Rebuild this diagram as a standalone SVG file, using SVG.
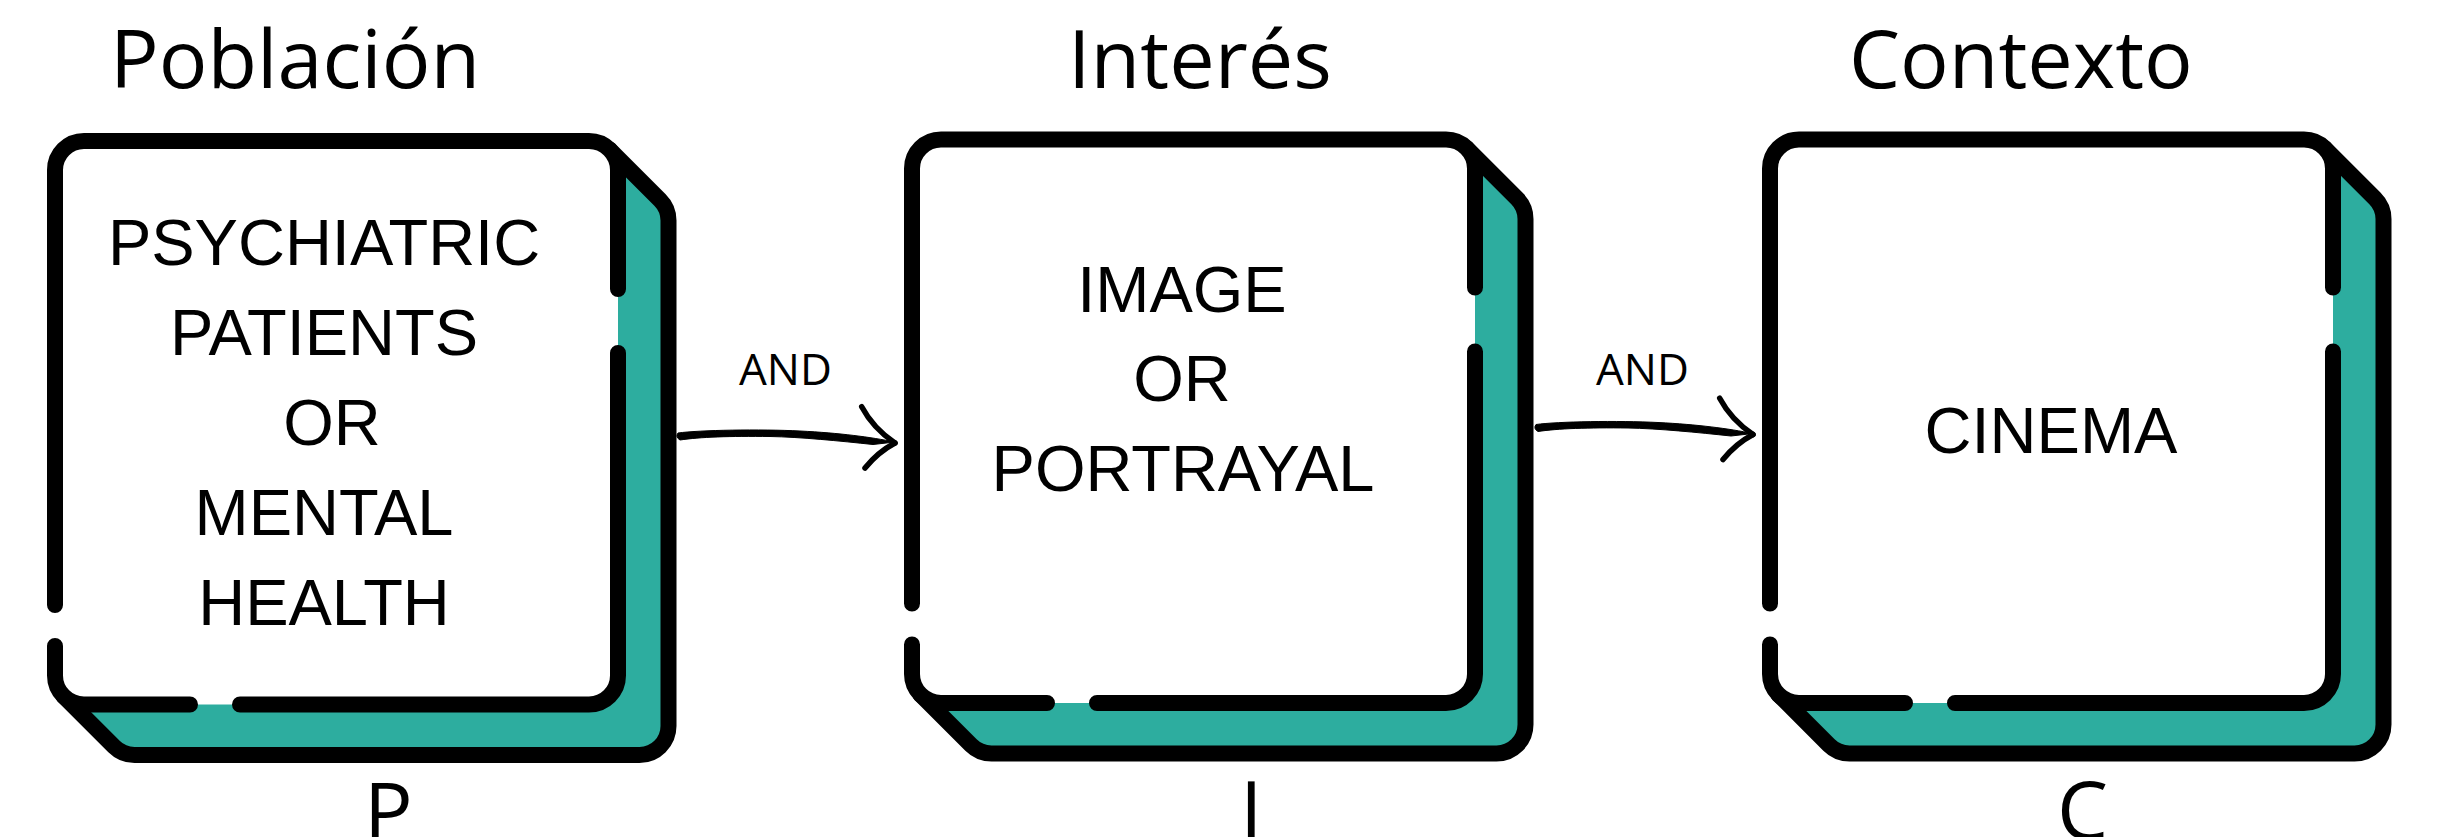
<svg xmlns="http://www.w3.org/2000/svg" width="2442" height="837" viewBox="0 0 2442 837">
<defs>
<style>
.back{fill:#2DAD9F;stroke:#000;stroke-width:16;stroke-linejoin:round;stroke-linecap:round}
.face{fill:#fff;stroke:none}
.edge{fill:none;stroke:#000;stroke-width:16;stroke-linecap:round;stroke-linejoin:round}
.title{font-family:"Open Sans","Noto Sans",sans-serif;font-size:81px;fill:#000}
.body{font-family:"Liberation Sans",Arial,sans-serif;font-size:65px;fill:#000;text-anchor:middle}
.lbl{font-family:"Open Sans","Noto Sans",sans-serif;font-size:44px;fill:#000;text-anchor:middle}
.shaft{fill:#000;stroke:#000;stroke-width:1}
.barb{fill:none;stroke:#000;stroke-width:5.5;stroke-linecap:round}
</style>
<g id="card">
<path class="back" d="M609.5 149.5 L660 200 A29 29 0 0 1 668.5 220.5 L668.5 726 A29 29 0 0 1 639.5 755 L134.5 755 A29 29 0 0 1 114 746.5 L63.5 696"/>
<rect class="face" x="55" y="141" width="563" height="563.5" rx="29"/>
<path class="edge" d="M55 605 L55 170 A29 29 0 0 1 84 141 L589 141 A29 29 0 0 1 618 170 L618 289"/>
<path class="edge" d="M618 353 L618 675.5 A29 29 0 0 1 589 704.5 L240 704.5"/>
<path class="edge" d="M190 704.5 L84 704.5 A29 29 0 0 1 55 675.5 L55 646"/>
</g>
<g id="arrow">
<path class="shaft" d="M678 433 C700 430 760 429 800 431 C840 433 870 437 895 442 L873 444.5 C840 441 800 437 770 436.5 C730 436 700 437 680 440 Q675 437 678 433 Z"/>
<path class="barb" d="M861.7 406.7 Q873 428 895 443"/>
<path class="barb" d="M895 443 Q878 452 865 468"/>
</g>
</defs>

<g id="node-poblacion">
<use href="#card"/>
<text class="title" x="110" y="88">Población</text>
<text class="body" x="324" y="265">PSYCHIATRIC</text>
<text class="body" x="324" y="355">PATIENTS</text>
<text class="body" x="332" y="445">OR</text>
<text class="body" x="324" y="535">MENTAL</text>
<text class="body" x="324" y="625">HEALTH</text>
<text class="title" x="364" y="841">P</text>
</g>

<g id="node-interes">
<use href="#card" transform="translate(857,-1.5)"/>
<text class="title" x="1068" y="88">Interés</text>
<text class="body" x="1182" y="312">IMAGE</text>
<text class="body" x="1182" y="401">OR</text>
<text class="body" x="1183" y="491">PORTRAYAL</text>
<text class="title" x="1240" y="839">I</text>
</g>

<g id="node-contexto">
<use href="#card" transform="translate(1715,-1.5)"/>
<text class="title" x="1849" y="88">Contexto</text>
<text class="body" x="2051" y="453">CINEMA</text>
<text class="title" x="2057" y="839">C</text>
</g>

<g id="connectors">
<use href="#arrow"/>
<text class="lbl" x="785.5" y="385">AND</text>
<use href="#arrow" transform="translate(858,-8.5)"/>
<text class="lbl" x="1642.5" y="385">AND</text>
</g>
</svg>
